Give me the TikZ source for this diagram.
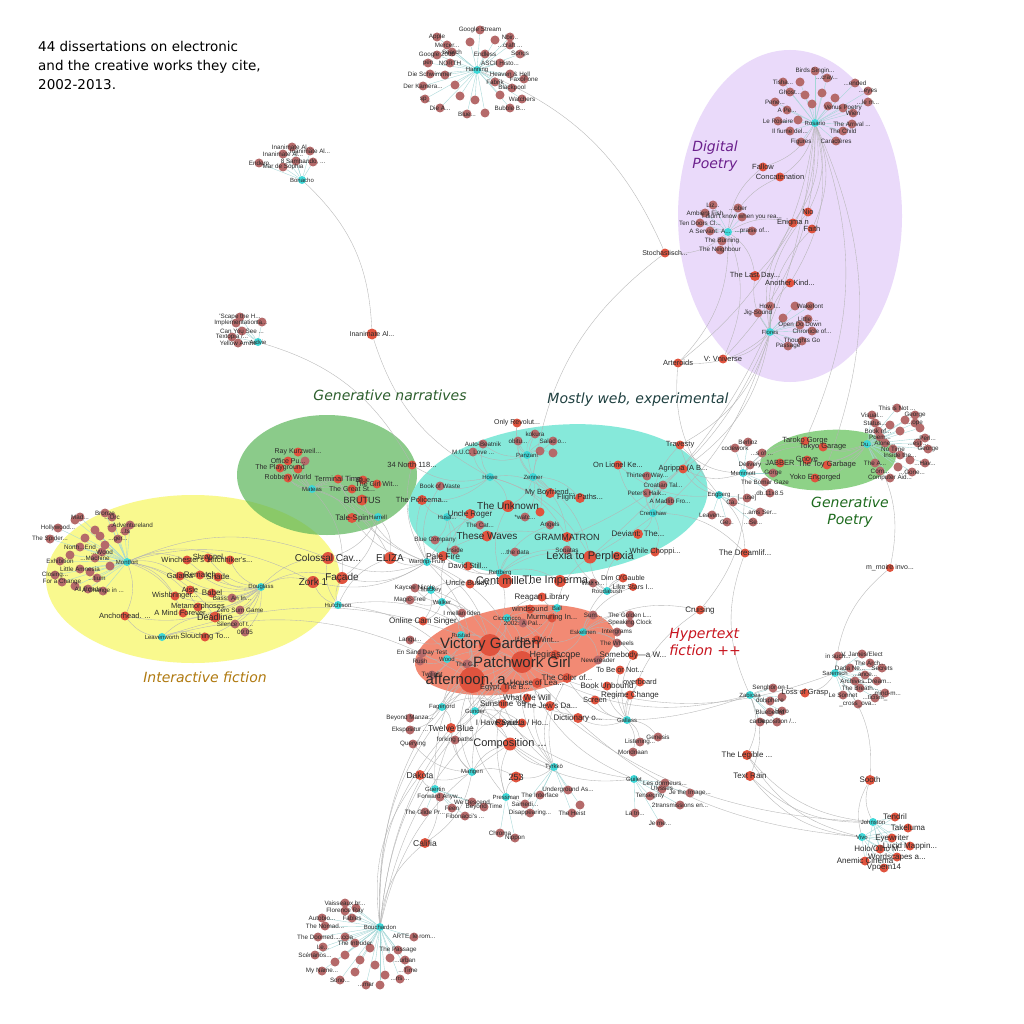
\documentclass[tikz,border=0pt]{standalone}
\usepackage{fontspec}
\newfontfamily\labfont{Liberation Sans}
\newfontfamily\titfont{DejaVu Sans}
\pgfdeclarelayer{bgl}\pgfdeclarelayer{edges}
\pgfsetlayers{bgl,edges,main}
\definecolor{wred}{HTML}{E0533E}
\definecolor{wbrown}{HTML}{B56A6A}
\definecolor{dcyan}{HTML}{3ED8D8}
\definecolor{spkc}{HTML}{A3D6D6}
\definecolor{edg}{HTML}{B5B5B5}
\definecolor{epur}{HTML}{EADAFA}
\definecolor{egrn}{HTML}{5BB559}
\definecolor{ecya}{HTML}{86E9DA}
\definecolor{eyel}{HTML}{F9F98E}
\definecolor{egp}{HTML}{5FBF55}
\definecolor{esal}{HTML}{F28A74}
\definecolor{labc}{HTML}{2A2A2A}
\definecolor{cpur}{HTML}{6B1F8C}
\definecolor{cgnc}{HTML}{2D5F2D}
\definecolor{cmwc}{HTML}{1F4040}
\definecolor{cgpc}{HTML}{1E6B1E}
\definecolor{cifc}{HTML}{B07A10}
\definecolor{chfc}{HTML}{C8141E}
\tikzset{
 wk/.style={circle,fill=wred,inner sep=0pt},
 bw/.style={circle,fill=wbrown,inner sep=0pt,minimum size=9pt},
 ds/.style={circle,fill=dcyan,inner sep=0pt,minimum size=8pt},
 lab/.style={inner sep=0pt,text=labc},
 edge/.style={draw=edg,line width=0.35pt},
 spk/.style={draw=spkc,line width=0.35pt},
 clab/.style={font=\titfont\itshape\fontsize{14}{17}\selectfont,inner sep=0pt}
}
\newcommand\labellist{}
\makeatletter
\newcommand\WL[4]{\g@addto@macro\labellist{\node[lab,font=\labfont\fontsize{#3}{#3}\selectfont] at (#1,#2) {#4};}}
\makeatother
\newcommand\WR[6]{\node[wk,minimum size=#4pt] (#1) at (#2,#3) {};\WL{#2}{#3}{#6}{#5}}
\newcommand\WB[4]{\node[bw] (#1) at (#2,#3) {};\WL{#2}{#3}{6.3}{#4}}
\newcommand\WD[4]{\node[ds] (#1) at (#2,#3) {};\WL{#2}{#3}{6}{#4}}
\begin{document}
\begin{tikzpicture}[x=1pt,y=-1pt]
\useasboundingbox (0,0) rectangle (1024,1024);
% ---------- cluster ellipses ----------
\begin{pgfonlayer}{bgl}
\fill[white] (0,0) rectangle (1024,1024);
\fill[epur] (790,216) ellipse [x radius=112pt, y radius=166pt];
\fill[eyel] (193,579) ellipse [x radius=147pt, y radius=84pt];
\fill[egrn,fill opacity=0.7] (327,475) ellipse [x radius=90pt, y radius=60pt];
\fill[ecya,rotate around={5:(558,500)}] (558,500) ellipse [x radius=150pt, y radius=75pt];
\fill[egp,fill opacity=0.7,rotate around={4:(828,460)}] (828,460) ellipse [x radius=68pt, y radius=30pt];
\fill[esal,rotate around={9:(515,650)}] (515,650) ellipse [x radius=101pt, y radius=43pt];
\end{pgfonlayer}
% ---------- title and cluster labels ----------
\node[anchor=north west,align=left,inner sep=0pt,font=\titfont\fontsize{13.5}{19}\selectfont] (title) at (38,41) {44 dissertations on electronic\\and the creative works they cite,\\2002-2013.};
\node[clab,text=cpur,align=left] (cdp) at (715,156) {Digital\\Poetry};
\node[clab,text=cgnc] (cgn) at (390,395) {Generative narratives};
\node[clab,text=cmwc] (cmw) at (638,400) {Mostly web, experimental};
\node[clab,text=cgpc,align=center] (cgp) at (850,512) {Generative\\Poetry};
\node[clab,text=cifc] (cif) at (205,677) {Interactive fiction};
\node[clab,text=chfc,align=left] (chf) at (705,642) {Hypertext\\fiction ++};
% ---------- top cluster ----------
\WD{han}{477}{70}{Hanning}
\WB{h1}{480}{30}{Google Stream}\WB{h2}{437}{37}{Apple}\WB{h3}{510}{37}{Nbir...}
\WB{h4}{447}{45}{Mercer...}\WB{h5}{510}{45}{...craft ...}\WB{h6}{452}{52}{Search}
\WB{h7}{437}{55}{Google 2000}\WB{h8}{485}{54}{Endless}\WB{h9}{520}{54}{Songs}
\WB{h10}{428}{63}{pen}\WB{h11}{450}{63}{NORTH}\WB{h12}{500}{63}{ASCII Histo...}
\WB{h13}{430}{74}{Die Schwimmer}\WB{h14}{510}{74}{Heaven \& Hell}\WB{h15}{423}{86}{Der Kamera...}
\WB{h16}{495}{82}{Fabrik}\WB{h17}{524}{79}{FaxoFone}\WB{h18}{512}{88}{Blackpool}
\WB{h19}{425}{99}{sp\_}\WB{h20}{522}{99}{Watchers}\WB{h21}{440}{108}{Die A...}
\WB{h22}{510}{108}{Bubble B...}\WB{h23}{467}{114}{Blue...}\WB{h24}{485}{113}{}
\WB{h25}{460}{96}{}\WB{h26}{470}{42}{}\WB{h27}{495}{40}{}\WB{h28}{455}{85}{}
\WB{h29}{500}{95}{}\WB{h30}{445}{75}{}\WB{h31}{475}{100}{}
% ---------- Bonacho / Ardvie ----------
\WD{bon}{302}{180}{Bonacho}
\WB{b1}{292}{147}{Inanimate Al...}\WB{b2}{310}{151}{Inanimate Al...}\WB{b3}{283}{154}{Inanimate Al...}
\WB{b4}{296}{161}{8 Samba...}\WB{b5}{313}{162}{...ndo, ...}\WB{b6}{259}{163}{Endero}\WB{b7}{283}{167}{Mar de Sophia}
\WD{ard}{258}{342}{Ardvie}
\WB{a1}{240}{317}{'Scape the H...}\WB{a2}{236}{323}{Implementation}\WB{a3}{262}{322}{ta...}
\WB{a4}{242}{331}{Can You See ...}\WB{a5}{232}{337}{Textopia /...}\WB{a6}{238}{343}{Yellow Arrow}
\WR{inan}{372}{334}{11}{Inanimate Al...}{7}
% ---------- digital poetry ----------
\WD{ros}{815}{123}{Rosario}
\WB{r1}{815}{71}{Birds Singin...}\WB{r2}{827}{78}{...cray...}\WB{r3}{783}{82}{Tisha...}
\WB{r4}{855}{83}{...ended}\WB{r5}{790}{92}{Ghost...}\WB{r6}{868}{91}{...eyes}
\WB{r7}{775}{102}{Pene...}\WB{r8}{868}{102}{...le m...}\WB{r9}{787}{110}{A Pe...}
\WB{r10}{843}{108}{Venus Poetry}\WB{r11}{853}{113}{Wien}\WB{r12}{778}{121}{Le Rosaire}
\WB{r13}{798}{120}{}\WB{r14}{852}{124}{The Arrival ...}\WB{r15}{790}{131}{Il fiume del...}
\WB{r16}{843}{131}{The Child}\WB{r17}{801}{142}{Figures}\WB{r18}{836}{141}{Caractères}
\WB{r19}{805}{95}{}\WB{r20}{822}{93}{}\WB{r21}{835}{98}{}\WB{r22}{812}{104}{}\WB{r23}{828}{106}{}\WB{r24}{800}{82}{}
\WR{fal}{763}{167}{9}{Fallow}{7.5}
\WR{con}{780}{177}{9}{Concatenation}{7.5}
\WD{amb}{728}{232}{}
\WB{m1}{713}{205}{Liz...}\WB{m2}{738}{208}{...ober}\WB{m3}{705}{213}{Ambient Fish}
\WB{m4}{742}{217}{I didn't know when you rea...}\WB{m5}{700}{223}{Ten Doors Cl...}
\WB{m6}{710}{231}{A Servant: A...}\WB{m7}{752}{231}{...praise of...}
\WB{m8}{722}{241}{The Burning}\WB{m9}{720}{250}{The Neighbour}
\WR{nio}{808}{212}{9}{Nio}{7.5}
\WR{enig}{793}{223}{9}{Enigma n}{7.5}
\WR{fai}{812}{229}{9}{Faith}{7.5}
\WR{stoch}{665}{253}{9}{Stochastisch...}{7}
\WR{last}{755}{276}{10}{The Last Day...}{7.5}
\WR{anoth}{790}{283}{9}{Another Kind...}{7.5}
\WD{flo}{770}{332}{Flores}
\WB{f1}{770}{306}{How I...}\WB{f2}{758}{313}{Jig-Sound}\WB{f3}{810}{306}{Wakefont}
\WB{f4}{795}{306}{}\WB{f5}{808}{319}{Little ...}\WB{f6}{800}{325}{Open Do Down}
\WB{f7}{812}{331}{Chronicle of...}\WB{f8}{802}{341}{Thoughts Go}\WB{f9}{788}{346}{Passage}\WB{f10}{783}{318}{}
\WR{vniv}{723}{359}{9}{V: Vniverse}{7.5}
\WR{arte}{678}{363}{9}{Arteroids}{7.5}
% ---------- generative poetry ----------
\WD{du}{867}{444}{Du...}
\WB{g1}{897}{408}{This is Not ...}\WB{g2}{872}{415}{Visual...}\WB{g3}{915}{415}{George}
\WB{g4}{875}{423}{Status...}\WB{g5}{915}{423}{...ope}\WB{g6}{878}{431}{Book of...}
\WB{g7}{900}{431}{}\WB{g8}{880}{437}{Poem...}\WB{g9}{925}{438}{...Perl...}
\WB{g10}{885}{443}{Alone...}\WB{g11}{918}{443}{...est ...}\WB{g12}{893}{449}{No Time}
\WB{g13}{928}{449}{George}\WB{g14}{900}{455}{Inside the...}\WB{g15}{875}{463}{The A...}
\WB{g16}{925}{463}{...Hav...}\WB{g17}{880}{471}{Com...}\WB{g18}{912}{472}{...Gone...}
\WB{g19}{890}{478}{Computer Aid...}\WB{g20}{905}{420}{}\WB{g21}{890}{425}{}
\WB{g22}{910}{460}{}\WB{g23}{898}{467}{}\WB{g24}{920}{428}{}
\WR{taro}{805}{441}{9}{Taroko Gorge}{7.5}
\WR{tokyo}{823}{447}{9}{Tokyo Garage}{7.5}
\WR{gnoe}{807}{460}{9}{Gnoye}{7.5}
\WR{toyg}{827}{465}{9}{The Toy Garbage}{7.5}
\WR{jab}{780}{463}{9}{JABBER}{7.5}
\WR{yoko}{815}{478}{9}{Yoko Engorged}{7.5}
\WD{mem}{743}{473}{Memmott}
\WB{gp1}{748}{442}{Berlioz}\WB{gp2}{735}{448}{codework}\WB{gp3}{762}{453}{...s of ...}
\WB{gp4}{750}{465}{Delivery}\WB{gp5}{773}{473}{Gorge}\WB{gp6}{765}{482}{The Bomar Gaze}\WB{gp7}{770}{493}{db.11x8.5}
\WD{eng}{719}{495}{Engberg}
\WB{gp8}{733}{502}{Ca...}\WB{gp9}{747}{498}{[...use]}\WB{gp10}{712}{515}{Leaven...}
\WB{gp11}{760}{512}{...ams Ser...}\WB{gp12}{727}{522}{Ge...}\WB{gp13}{753}{522}{...Se...}
% ---------- generative narratives ----------
\WR{ray}{298}{452}{9}{Ray Kurzweil...}{7}
\WR{office}{288}{461}{9}{Office Pu...}{7}
\WB{gn1}{305}{461}{}
\WR{play}{280}{468}{9}{The Playground}{7}
\WR{gn2}{298}{469}{9}{}{7}
\WR{robb}{288}{478}{9}{Robbery World}{7}
\WR{term}{338}{479}{9}{Terminal Time}{7.5}
\WR{blue}{363}{480}{9}{Blue}{7}
\WR{girl}{377}{484}{9}{The Girl Wit...}{7}
\WR{great}{352}{489}{9}{The Great St...}{7}
\WD{mat}{312}{489}{Mateas}
\WR{brut}{362}{500}{11}{BRUTUS}{9}
\WR{tale}{352}{518}{10}{Tale-Spin}{8}
\WD{harr}{378}{517}{Harrell}
% ---------- mostly web ----------
\WR{only}{517}{423}{9}{Only Revolut...}{7}
\WB{kok}{535}{434}{kokura}
\WB{obit}{518}{441}{obitu...}
\WB{salad}{553}{441}{Salad o...}
\WB{auto}{483}{444}{Auto-Beatnik}
\WB{muc}{473}{452}{M.U.C. Love ...}
\WD{panz}{527}{455}{Panzani}
\WB{wb1}{540}{451}{}\WB{wb2}{553}{453}{}
\WD{howe}{490}{477}{Howe}
\WD{zen}{533}{477}{Zenner}
\WR{north}{412}{465}{9}{34 North 118...}{7.5}
\WB{waste}{440}{486}{Book of Waste}
\WR{polic}{422}{500}{10}{The Policema...}{7.5}
\WR{boyf}{550}{493}{10}{My Boyfriend...}{7.5}
\WR{fligh}{580}{498}{10}{Flight Paths...}{7.5}
\WR{unkn}{508}{506}{12}{The Unknown}{10}
\WR{uncr}{470}{514}{10}{Uncle Roger}{8}
\WD{husa}{447}{517}{Husa...}
\WB{watc}{525}{517}{*watc...}
\WR{wb3}{540}{512}{9}{}{7}
\WB{catt}{480}{525}{The Cat...}
\WB{angel}{550}{525}{Angels}
\WR{gram}{567}{537}{10}{GRAMMATRON}{9}
\WR{waves}{487}{536}{11}{These Waves}{10}
\WB{bluec}{435}{540}{Blue Company}
\WB{inside}{455}{550}{Inside}
\WR{pale}{443}{556}{10}{Pale Fire}{8.5}
\WB{data}{515}{552}{...the data}
\WB{sonat}{567}{550}{Sonatas}
\WR{lexia}{590}{557}{13}{Lexia to Perplexia}{11}
\WR{isl}{617}{556}{9}{}{7}
\WR{eliza}{390}{558}{12}{ELIZA}{10}
\WD{ward}{427}{562}{Wardrip-Fruin}
\WR{david}{468}{566}{9}{David Still...}{7.5}
\WD{rett}{500}{573}{Rettberg}
\WR{cent}{505}{581}{14}{Cent mille...}{11}
\WR{imper}{560}{581}{12}{The Imperma...}{11}
\WR{travesty}{680}{445}{9}{Travesty}{7.5}
\WR{lion}{618}{465}{9}{On Lionel Ke...}{7.5}
\WR{agr}{683}{469}{9}{Agrippa (A B...}{7.5}
\WB{thir}{647}{476}{Thirteen Way...}
\WB{croat}{663}{485}{Croatian Tal...}
\WB{peter}{647}{493}{Peter's Haik...}
\WB{madl}{670}{501}{A Madlib Fro...}
\WD{cren}{653}{513}{Crenshaw}
\WR{devi}{638}{534}{10}{Deviant: The...}{8}
\WR{while}{655}{552}{9}{While Choppi...}{7.5}
\WR{dim}{623}{578}{9}{Dim O'Gauble}{7}
\WR{like}{633}{587}{8}{Like Stars I...}{7}
\WB{wall}{593}{583}{Wall o...}
\WD{roud}{607}{591}{Roudabush}
% ---------- hypertext ----------
\WR{ub}{470}{584}{9}{Uncle Buddy...}{7.5}
\WB{kay}{415}{588}{Kaycee Nicole}
\WD{mack}{431}{590}{Mackey}
\WB{magic}{410}{600}{Magic-Tree}
\WD{walk}{442}{602}{Walker}
\WR{reag}{542}{597}{9}{Reagan Library}{8}
\WR{wind}{530}{609}{9}{windsound}{7.5}
\WD{ball}{557}{608}{Ball}
\WB{mellan}{462}{613}{I mellan tiden}
\WR{online}{423}{621}{9}{Online Cam Singer}{8}
\WD{cicc}{507}{618}{Ciccoricco}
\WR{murm}{552}{618}{9}{Murmuring In...}{7.5}
\WB{pal}{523}{623}{2002: A Pal...}
\WB{sum}{593}{615}{Sum...}
\WB{golden}{630}{615}{The Golden L...}
\WB{speak}{630}{623}{Speaking Clock}
\WD{rust}{461}{635}{Rustad}
\WD{esk}{583}{632}{Eskelinen}
\WB{inter}{617}{632}{Intergrams}
\WB{lang}{410}{640}{Langu...}
\WR{wint}{537}{640}{9}{If on a Wint...}{7.5}
\WB{unw}{617}{643}{The Wheels}
\WR{vg}{490}{645}{22}{Victory Garden}{15}
\WB{sand}{422}{653}{En Sand Day Test}
\WR{hegi}{555}{655}{10}{Hegirascope}{9}
\WR{some}{633}{655}{10}{Somebody—a W...}{8}
\WB{rush}{420}{661}{Rush}
\WD{wood}{447}{659}{Wood}
\WB{news}{598}{660}{Newsreader}
\WB{theg}{467}{664}{The G...}
\WR{patch}{522}{662}{22}{Patchwork Girl}{15}
\WB{twil}{432}{675}{Twilight}
\WR{tobe}{620}{670}{9}{To Be or Not...}{7.5}
\WR{aft}{472}{680}{26}{afternoon, a...}{15}
\WR{house}{537}{683}{10}{House of Lea...}{8}
\WR{color}{567}{678}{10}{The Color of...}{8}
\WR{egypt}{505}{688}{9}{Egypt, The B...}{7.5}
\WR{bookun}{607}{686}{9}{Book Unbound}{8}
\WR{overb}{640}{682}{9}{overboard}{7.5}
\WR{regime}{630}{695}{9}{Regime Change}{8}
\WR{screen}{595}{700}{9}{Screen}{7.5}
\WR{what}{527}{698}{9}{What We Will}{8}
\WR{suns}{503}{704}{9}{Sunshine '69}{8}
\WR{jews}{550}{706}{10}{The Jew's Da...}{8}
\WD{fager}{442}{707}{Fagerjord}
\WD{gund}{475}{711}{Gunder}
\WR{dict}{578}{718}{10}{Dictionary o...}{8}
\WD{gall}{627}{720}{Gallass}
\WB{beyond}{410}{718}{Beyond Manza...}
\WB{eksp}{410}{730}{Ekspositur ...}
\WR{twelve}{451}{728}{10}{Twelve Blue}{8.5}
\WR{ihave}{500}{723}{9}{I Have Said...}{8}
\WR{rayu}{522}{723}{9}{Rayuela / Ho...}{8}
\WB{listen}{640}{742}{Listening...}
\WB{gene}{658}{737}{Genesis}
\WB{mond}{633}{752}{Mondriaan}
\WR{comp}{510}{744}{13}{Composition ...}{11}
\WB{quer}{413}{744}{Querying}
\WB{fork}{455}{740}{forking paths}
\WR{dak}{420}{775}{10}{Dakota}{8.5}
\WD{mang}{472}{772}{Mangen}
\WR{n253}{516}{777}{11}{253}{9}
\WD{tyr}{554}{767}{Tyrkkö}
\WD{guer}{435}{789}{Guertin}
\WD{guil}{634}{779}{Guilet}
\WB{fwd}{440}{797}{Forward Anyw...}
\WB{wedes}{472}{802}{We Descend}
\WB{beyt}{484}{807}{Beyond Time}
\WB{feen}{452}{808}{Feen}
\WB{glide}{425}{812}{The Glide Pr...}
\WB{fib}{465}{816}{Fibonacci's ...}
\WD{press}{506}{797}{Pressman}
\WB{underg}{568}{790}{Underground As...}
\WB{inter2}{540}{795}{The Interface}
\WB{samedi}{525}{804}{Samedi...}
\WB{disap}{530}{813}{Disappearing...}
\WB{heist}{572}{813}{The Heist}
\WB{rand}{580}{805}{}
\WB{lesd}{665}{783}{Les dormeurs...}
\WB{ulys}{662}{789}{Ulysses}
\WB{tens}{650}{796}{Tensegrity}
\WB{jeim}{690}{793}{Je the Image...}
\WB{trans}{680}{805}{2transmissions en...}
\WB{latri}{635}{813}{La tri...}
\WB{jeme}{660}{823}{Je me...}
\WB{chrom}{500}{833}{Chroma}
\WB{nigh}{515}{838}{Nippon}
\WR{calif}{425}{843}{10}{Califia}{8.5}
% ---------- bottom cluster ----------
\WD{bou}{380}{927}{Bouchardon}
\WB{o1}{345}{903}{Vaisseaux br...}\WB{o2}{356}{908}{}\WB{o3}{345}{911}{Florence Ray}
\WB{o4}{322}{918}{Autobio...}\WB{o5}{352}{918}{Fables}\WB{o6}{325}{926}{The Nomad...}
\WB{o7}{318}{937}{The Doomed...}\WB{o8}{345}{937}{...ccia}\WB{o9}{355}{943}{The Intruder}
\WB{o10}{323}{947}{Le...}\WB{o11}{414}{937}{ARTE, le rom...}\WB{o12}{315}{955}{Scénarios...}
\WB{o13}{398}{950}{The Passage}\WB{o14}{405}{960}{...urban}\WB{o15}{322}{971}{My Name...}
\WB{o16}{408}{970}{...Time}\WB{o17}{340}{980}{Sono...}\WB{o18}{400}{979}{...ns ...}
\WB{o19}{366}{985}{...mar}\WB{o20}{345}{955}{}\WB{o21}{360}{960}{}\WB{o22}{375}{965}{}
\WB{o23}{355}{972}{}\WB{o24}{385}{975}{}\WB{o25}{370}{948}{}\WB{o26}{390}{958}{}
\WB{o27}{335}{962}{}\WB{o28}{380}{985}{}
% ---------- right side ----------
\WD{sar}{835}{673}{Sarensch}
\WB{s1}{862}{654}{V. James/Elect}\WB{s2}{838}{656}{in such...}\WB{s3}{870}{663}{The Arch...}
\WB{s4}{850}{668}{Dada Ne...}\WB{s5}{882}{668}{Secrets}\WB{s6}{865}{675}{...ance...}
\WB{s7}{855}{681}{Archives...}\WB{s8}{877}{681}{...Dream...}\WB{s9}{860}{688}{The Breath...}
\WB{s10}{885}{693}{...mind-m...}\WB{s11}{843}{695}{Le Sonnet}\WB{s12}{875}{698}{...ticism\_}
\WB{s13}{858}{704}{\_cross\_ova...}
\WD{zab}{750}{695}{Zabicea}
\WB{z1}{773}{688}{Senghor on t...}\WB{z2}{770}{701}{dolsphere}\WB{z3}{782}{697}{}
\WB{z4}{770}{712}{Bluebeard}\WB{z5}{782}{711}{Hero}\WB{z6}{760}{722}{came...}\WB{z7}{777}{722}{Deposition /...}
\WR{loss}{805}{693}{9}{Loss of Grasp}{7.5}
\WR{legib}{747}{755}{10}{The Legible ...}{8}
\WR{textr}{750}{776}{10}{Text Rain}{8}
\WR{sooth}{870}{780}{10}{Sooth}{8}
\WD{john}{873}{822}{Johnston}
\WD{vivo}{862}{837}{Vivo}
\WR{tend}{895}{817}{9}{Tendril}{8}
\WR{take}{908}{828}{9}{Takeluma}{8}
\WR{eyew}{892}{838}{9}{Eyewriter}{8}
\WR{lucid}{910}{846}{9}{Lucid Mappin...}{8}
\WR{holo}{880}{849}{9}{Holo/Olho M...}{8}
\WR{words}{897}{857}{9}{Wordscapes a...}{8}
\WR{anem}{865}{861}{9}{Anemic Cinema}{8}
\WR{vpoem}{884}{868}{9}{Vpoem14}{8}
\WR{cruis}{700}{610}{9}{Cruising}{8}
\WR{dream}{745}{553}{9}{The Dreamlif...}{8}
\WR{mmoire}{890}{568}{8}{m\_moire invo...}{7}
% ---------- interactive fiction ----------
\WD{mont}{127}{562}{Montfort}
\WB{i1}{105}{513}{Bronze}\WB{i2}{80}{517}{Mad...}\WB{i3}{112}{517}{...Orc}
\WB{i4}{130}{525}{...Adventureland}\WB{i5}{58}{528}{Hollywood...}\WB{i6}{125}{531}{...ts}
\WB{i7}{50}{539}{The Spider...}\WB{i8}{118}{539}{...ger...}\WB{i9}{80}{547}{North...End}
\WB{i10}{102}{552}{...Wood}\WB{i11}{60}{561}{Exhibition}\WB{i12}{95}{558}{...Machine}
\WB{i13}{80}{569}{Little Amnesia}\WB{i14}{55}{575}{Closing...}\WB{i15}{97}{578}{...tium}
\WB{i16}{62}{582}{For a Change}\WB{i17}{88}{589}{All Roads}\WB{i18}{103}{591}{A Change in ...}
\WB{i19}{75}{520}{}\WB{i20}{95}{530}{}\WB{i21}{85}{538}{}\WB{i22}{105}{545}{}\WB{i23}{70}{555}{}
\WB{i24}{110}{566}{}\WB{i25}{90}{572}{}\WB{i26}{75}{586}{}\WB{i27}{100}{536}{}\WB{i28}{112}{528}{}
\WR{winch}{187}{560}{9}{Winchester's ...}{7.5}
\WR{shrap}{208}{558}{9}{Shrapnel}{7.5}
\WR{hitch}{230}{560}{9}{Hitchhiker's...}{7.5}
\WR{gala}{180}{576}{9}{Galatea}{7.5}
\WR{remat}{200}{575}{9}{Rematch}{8}
\WR{shade}{218}{577}{9}{Shade}{8}
\WD{doug}{261}{587}{Douglass}
\WR{wish}{175}{596}{9}{Wishbringer...}{7.5}
\WR{aisle}{190}{590}{9}{Aisle}{7.5}
\WR{babel}{212}{593}{9}{Babel}{8}
\WB{bass}{232}{598}{Bass: An In...}
\WR{meta}{198}{607}{9}{Metamorphoses}{7.5}
\WR{amind}{183}{613}{9}{A Mind Forever...}{7.5}
\WB{zero}{240}{610}{Zero Sum Game}
\WR{dead}{215}{617}{11}{Deadline}{9}
\WB{sil}{235}{624}{Silence of t...}
\WB{oh905}{245}{632}{09:05}
\WR{anch}{125}{616}{9}{Anchorhead. ...}{7.5}
\WD{leav}{162}{637}{Leavenworth}
\WR{slouch}{205}{637}{9}{Slouching To...}{7.5}
\WR{colos}{328}{558}{12}{Colossal Cav...}{10}
\WR{zork}{313}{582}{12}{Zork 1}{10}
\WR{facade}{342}{578}{12}{Façade}{10}
\WD{hutch}{338}{605}{Hutchison}
% ---------- connectors ----------
\begin{pgfonlayer}{edges}
\foreach \i in {1,...,31} \draw[spk] (han) -- (h\i);
\foreach \i in {1,...,7} \draw[spk] (bon) -- (b\i);
\foreach \i in {1,...,6} \draw[spk] (ard) -- (a\i);
\foreach \i in {1,...,24} \draw[spk] (ros) -- (r\i);
\foreach \i in {1,...,9} \draw[spk] (amb) -- (m\i);
\foreach \i in {1,...,10} \draw[spk] (flo) -- (f\i);
\foreach \i in {1,...,24} \draw[spk] (du) -- (g\i);
\foreach \i in {1,...,7} \draw[spk] (mem) -- (gp\i);
\foreach \i in {8,...,13} \draw[spk] (eng) -- (gp\i);
\foreach \i in {1,...,28} \draw[spk] (mont) -- (i\i);
\foreach \i in {1,...,28} \draw[spk] (bou) -- (o\i);
\foreach \i in {1,...,13} \draw[spk] (sar) -- (s\i);
\foreach \i in {1,...,7} \draw[spk] (zab) -- (z\i);
\foreach \t in {underg,inter2,samedi,disap,heist,rand} \draw[spk] (tyr) -- (\t);
\foreach \t in {lesd,ulys,tens,jeim,trans,latri,jeme} \draw[spk] (guil) -- (\t);
\foreach \t in {fwd,wedes,beyt,feen,glide,fib} \draw[spk] (guer) -- (\t);
\foreach \t in {chrom,nigh} \draw[spk] (press) -- (\t);
\foreach \t in {tend,take,eyew,lucid,holo,words,anem,vpoem} {\draw[spk] (john) -- (\t); \draw[spk] (vivo) -- (\t);}
\foreach \s/\t in {han/stoch, bon/inan, howe/inan, ard/north,
 ros/fal, ros/con, ros/nio, ros/fai, ros/enig, ros/last, ros/anoth, ros/vniv, ros/arte, ros/taro, ros/toyg, ros/lexia,
 amb/last, amb/vniv, amb/arte, amb/stoch, amb/fal, amb/con, amb/enig,
 flo/vniv, flo/arte, flo/last, flo/anoth, flo/nio, flo/fai, flo/enig, flo/travesty, flo/lexia, flo/gram, flo/agr,
 du/taro, du/tokyo, du/toyg, du/yoko, du/gnoe, du/jab, du/mmoire,
 mem/jab, mem/taro, mem/agr, mem/travesty, mem/cruis, mem/tokyo,
 eng/dream, eng/lion, eng/agr, eng/travesty, eng/arte,
 mont/winch, mont/hitch, mont/gala, mont/wish, mont/amind, mont/dead, mont/meta, mont/anch, mont/colos, mont/zork,
 doug/colos, doug/zork, doug/facade, doug/winch, doug/shrap, doug/hitch, doug/gala, doug/remat, doug/shade, doug/wish,
 doug/aisle, doug/babel, doug/bass, doug/meta, doug/amind, doug/zero, doug/dead, doug/sil, doug/oh905, doug/anch, doug/slouch,
 leav/slouch, leav/dead, leav/anch, leav/aft, leav/patch,
 hutch/colos, hutch/zork, hutch/facade, hutch/eliza, hutch/aft, hutch/vg,
 mat/ray, mat/office, mat/play, mat/robb, mat/term, mat/blue, mat/girl, mat/great, mat/brut, mat/tale, mat/facade, mat/eliza, mat/gn1, mat/gn2,
 harr/tale, harr/brut, harr/term, harr/facade, harr/eliza, harr/colos,
 ward/eliza, ward/tale, ward/brut, ward/term, ward/facade, ward/colos, ward/zork, ward/pale, ward/vg, ward/aft, ward/patch, ward/unkn, ward/gram, ward/polic, ward/north, ward/waste,
 howe/auto, howe/muc, howe/unkn, howe/polic, howe/gram, howe/lexia, howe/boyf, howe/north, howe/waste,
 zen/only, zen/kok, zen/obit, zen/salad, zen/boyf, zen/fligh, zen/unkn, zen/lexia, zen/gram, zen/stoch, zen/wb3, zen/watc,
 panz/kok, panz/obit, panz/auto, panz/muc, panz/only, panz/salad, panz/wb1, panz/wb2,
 husa/waves, husa/bluec, husa/catt, husa/pale, husa/uncr, husa/inside, husa/polic,
 cren/thir, cren/croat, cren/peter, cren/madl, cren/lion, cren/devi, cren/while, cren/travesty, cren/agr, cren/dream,
 rett/cent, rett/lexia, rett/unkn, rett/pale, rett/david, rett/vg, rett/imper, rett/data, rett/sonat, rett/angel,
 mack/kay, mack/magic, mack/ub, mack/online, mack/aft, mack/vg,
 walk/kay, walk/magic, walk/ub, walk/online, walk/patch, walk/aft, walk/mellan, walk/uncr,
 ball/reag, ball/wind, ball/murm, ball/vg, ball/patch, ball/aft, ball/lexia,
 cicc/pal, cicc/murm, cicc/vg, cicc/patch, cicc/aft, cicc/wint, cicc/hegi, cicc/reag,
 rust/vg, rust/patch, rust/aft, rust/mellan, rust/lang, rust/sand, rust/twil,
 esk/wint, esk/hegi, esk/unw, esk/inter, esk/some, esk/news, esk/speak, esk/golden, esk/sum, esk/cruis, esk/dim, esk/like,
 roud/dim, roud/like, roud/wall, roud/lexia, roud/gram, roud/isl,
 wood/rush, wood/sand, wood/vg, wood/patch, wood/aft, wood/twil, wood/theg,
 fager/aft, fager/vg, fager/patch, fager/egypt, fager/twelve, fager/beyond, fager/eksp, fager/suns,
 gund/aft, gund/patch, gund/vg, gund/suns, gund/what, gund/house, gund/twelve, gund/ihave, gund/rayu, gund/comp,
 gall/dict, gall/regime, gall/screen, gall/bookun, gall/overb, gall/listen, gall/gene, gall/mond, gall/some, gall/tobe, gall/color, gall/cruis,
 mang/comp, mang/twelve, mang/dak, mang/n253, mang/fork, mang/quer, mang/calif, mang/aft, mang/patch,
 guer/calif, guer/dak, guer/patch, guer/vg,
 tyr/comp, tyr/n253, tyr/aft, tyr/vg, tyr/patch, tyr/jews, tyr/house, tyr/color,
 press/n253, press/disap, press/comp, press/patch, press/aft,
 guil/comp, guil/aft, guil/patch,
 bou/aft, bou/patch, bou/vg, bou/comp, bou/twelve, bou/dak, bou/calif, bou/house, bou/egypt,
 zab/loss, zab/textr, zab/legib, zab/aft, zab/patch, zab/dream,
 sar/sooth, sar/loss, sar/mmoire, sar/patch,
 john/textr, john/legib, john/sooth, john/vg, vivo/textr, vivo/legib, vivo/patch, vivo/sooth} \draw[edge] (\s) to[bend left=22] (\t);
\end{pgfonlayer}
% ---------- labels on top ----------
\labellist
\end{tikzpicture}
\end{document}
